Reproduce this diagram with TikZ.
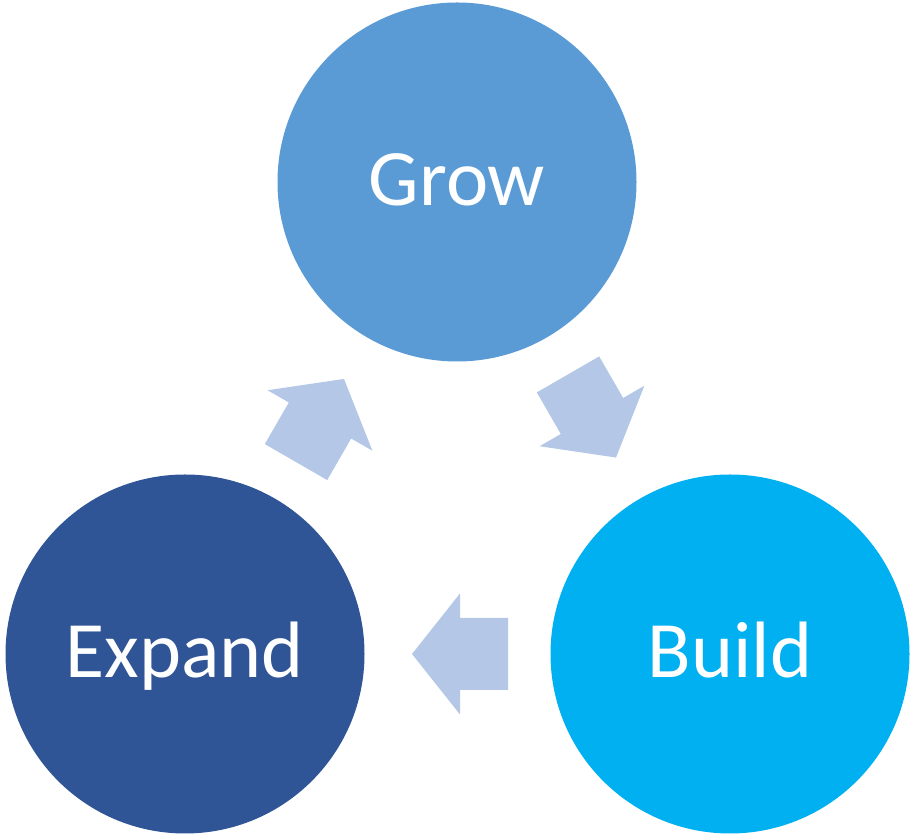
\documentclass[tikz,border=0pt]{standalone}
\usepackage{fontspec}
\setmainfont{Carlito}
\definecolor{growc}{HTML}{5B9BD5}
\definecolor{expandc}{HTML}{2F5597}
\definecolor{buildc}{HTML}{00B0F0}
\definecolor{arrowc}{HTML}{B4C7E7}
\begin{document}
\begin{tikzpicture}[x=1pt,y=1pt,
  stage/.style={circle, minimum size=359pt, inner sep=0pt, text=white,
    font=\fontsize{80}{96}\selectfont, text height=48pt, text depth=0pt},
  blockarrow/.pic={
    \fill[arrowc] (-48,-36) -- (0,-36) -- (0,-60.5) -- (48,0) -- (0,60.5)
      -- (0,36) -- (-48,36) -- cycle;
  }]
\useasboundingbox (0,0) rectangle (910,834);
\node[stage, fill=growc]   (G) at (457,652) {Grow};
\node[stage, fill=expandc] (E) at (185,180) {Expand};
\node[stage, fill=buildc]  (B) at (730,180) {Build};
\coordinate (EG) at (320,413.5);
\coordinate (GB) at (592,418);
\coordinate (BE) at (460,180);
\pic[rotate=60]  at (EG) {blockarrow};
\pic[rotate=-60] at (GB) {blockarrow};
\pic[rotate=180] at (BE) {blockarrow};
\end{tikzpicture}
\end{document}
